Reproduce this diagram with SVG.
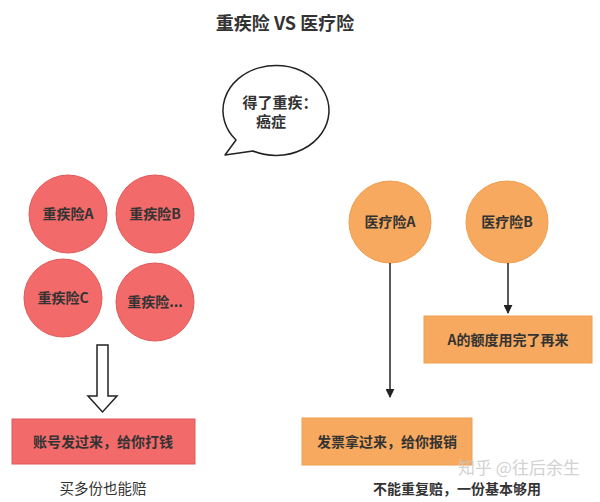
<svg xmlns="http://www.w3.org/2000/svg" width="600" height="502" viewBox="0 0 600 502">
<style>
text{font-family:"Noto Sans CJK SC","Liberation Sans",sans-serif;text-anchor:middle;fill:#333}
.t{font-size:14px;font-weight:bold}
.red{fill:#f26a6a;stroke:#e05a5a;stroke-width:1}
.org{fill:#f7aa5f;stroke:#eea050;stroke-width:1}
.line{stroke:#222;stroke-width:1.5;fill:none}
</style>
<defs>
<marker id="ah" viewBox="0 0 10 10" refX="9" refY="5" markerWidth="9" markerHeight="9" markerUnits="userSpaceOnUse" orient="auto">
<path d="M0,0 L10,5 L0,10 z" fill="#222"/>
</marker>
</defs>
<rect width="600" height="502" fill="#fff"/>
<text x="285" y="30" style="font-size:18px;font-weight:bold">重疾险 VS 医疗险</text>
<g id="bubble">
<path d="M236,140 A53,45 0 1 1 253,151 L225,155 Z" fill="#fff" stroke="#222" stroke-width="1.5" stroke-linejoin="round"/>
<text class="t" x="280" y="108" style="font-size:15px">得了重疾：</text>
<text class="t" x="271" y="127" style="font-size:15px">癌症</text>
</g>
<g id="ci-a"><circle class="red" cx="68" cy="214" r="39"/><text class="t" x="68" y="219">重疾险A</text></g>
<g id="ci-b"><circle class="red" cx="155" cy="214" r="39"/><text class="t" x="155" y="219">重疾险B</text></g>
<g id="ci-c"><circle class="red" cx="63" cy="298" r="39"/><text class="t" x="63" y="303">重疾险C</text></g>
<g id="ci-d"><circle class="red" cx="155" cy="302" r="39"/><text class="t" x="155" y="307">重疾险...</text></g>
<g id="ci-box"><rect class="red" x="12" y="419" width="183" height="45"/><text class="t" x="103" y="447">账号发过来，给你打钱</text></g>
<text x="103" y="494" style="font-size:14.5px">买多份也能赔</text>
<g id="mi-a"><circle class="org" cx="390" cy="222" r="41"/><text class="t" x="390" y="227">医疗险A</text></g>
<g id="mi-b"><circle class="org" cx="507" cy="222" r="41"/><text class="t" x="507" y="227">医疗险B</text></g>
<g id="mi-box1"><rect class="org" x="424" y="316" width="168" height="47"/><text class="t" x="508" y="345">A的额度用完了再来</text></g>
<g id="mi-box2"><rect class="org" x="302" y="418" width="170" height="47"/><text class="t" x="387" y="447">发票拿过来，给你报销</text></g>
<text x="457" y="494" style="font-size:14px;font-weight:bold">不能重复赔，一份基本够用</text>
<text x="519" y="474" style="font-size:17px;fill:#c8c8c8;opacity:0.8">知乎 @往后余生</text>
<g id="connectors">
<path d="M97,345 L108,345 L108,396 L117,396 L102.5,412 L88,396 L97,396 Z" fill="#fff" stroke="#222" stroke-width="1.5" stroke-linejoin="miter"/>
<line class="line" x1="390" y1="263" x2="390" y2="397" marker-end="url(#ah)"/>
<line class="line" x1="508" y1="263" x2="508" y2="313" marker-end="url(#ah)"/>
</g>
</svg>
